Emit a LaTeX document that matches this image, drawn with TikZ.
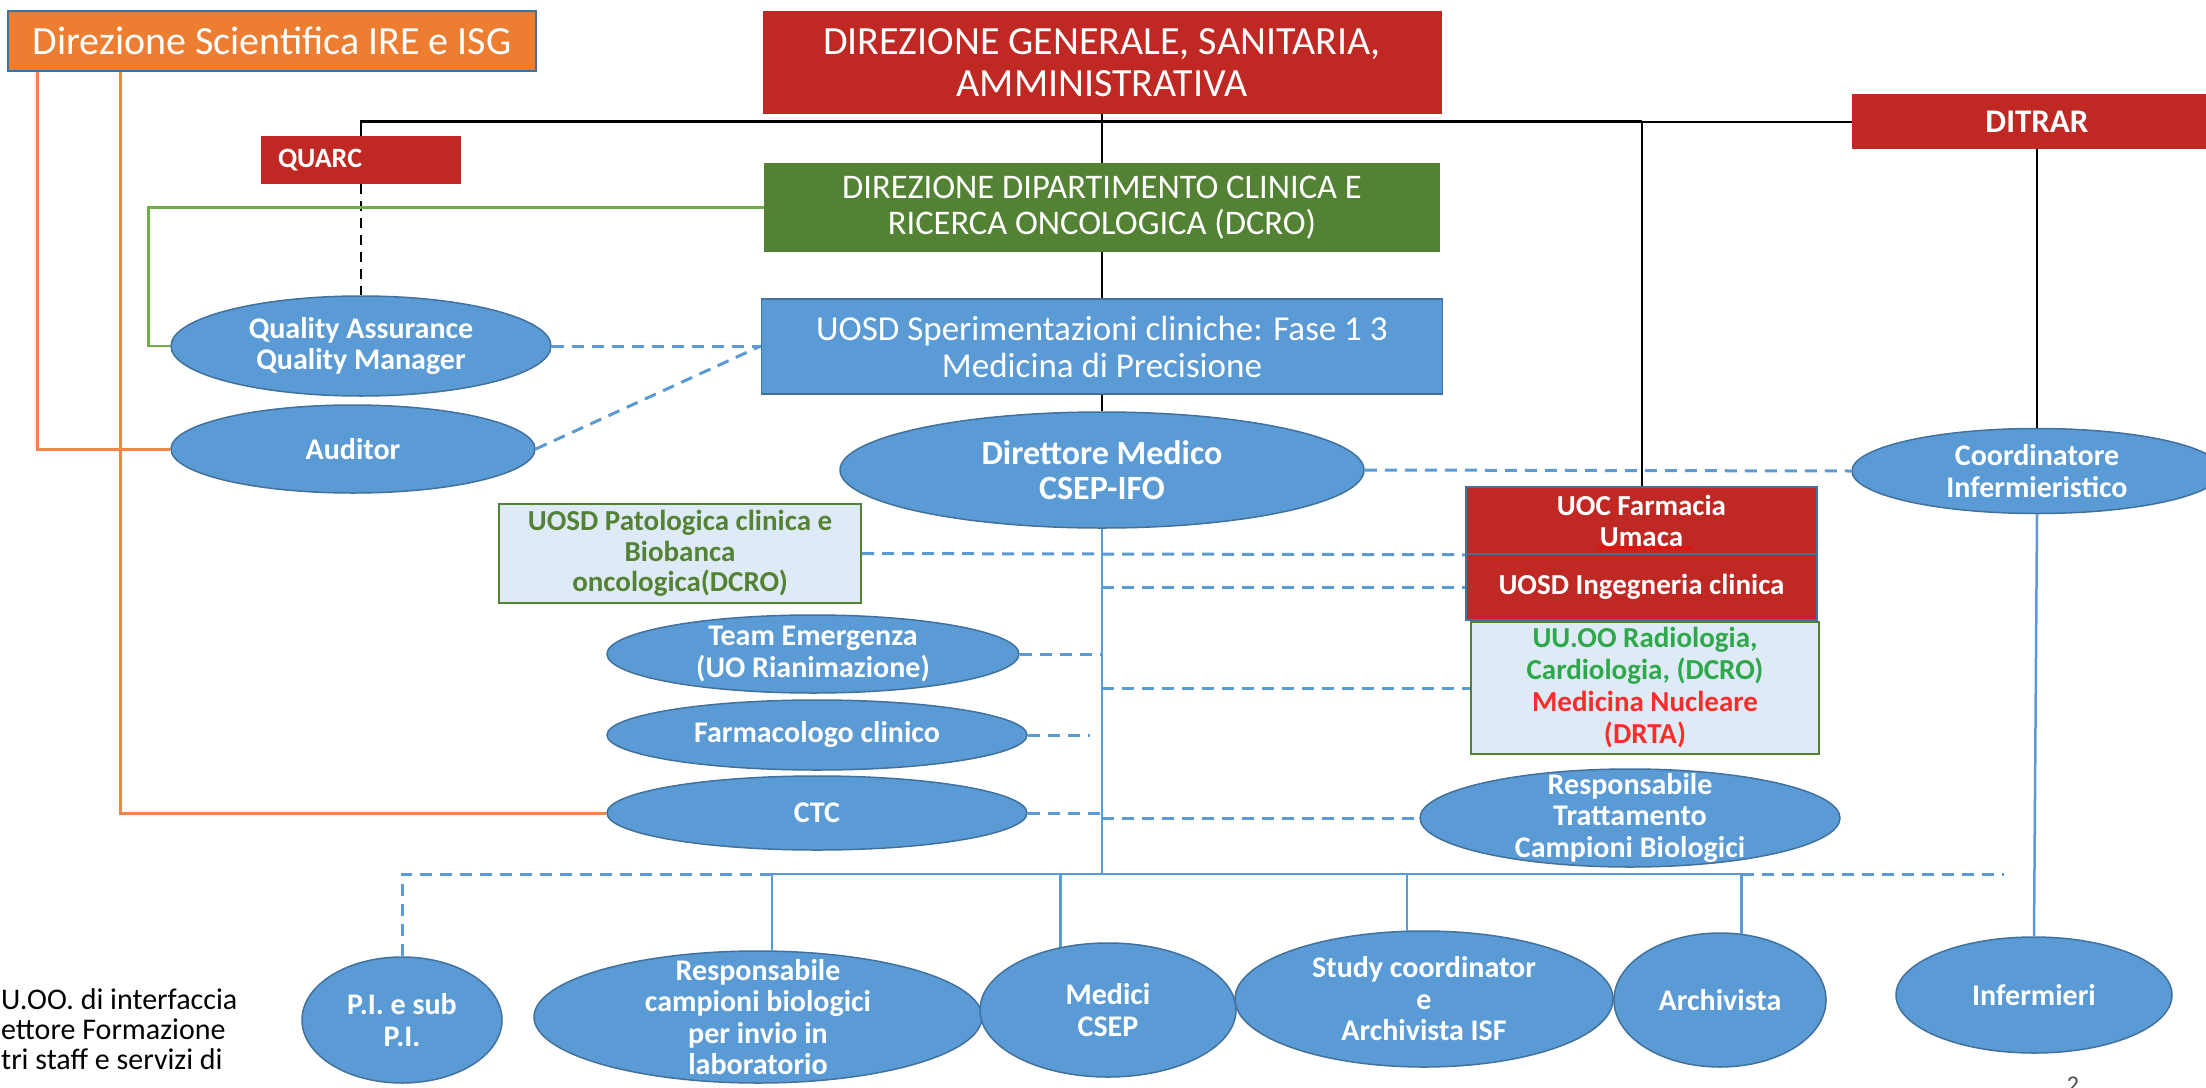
\documentclass[tikz,border=0pt]{standalone}
\usepackage{fontspec}
\setmainfont{Carlito}
\usepackage{tikz}
\usetikzlibrary{shapes.geometric,decorations.pathmorphing}

\begin{document}
\begin{tikzpicture}[x=1pt,y=-1pt,
  box/.style={rectangle,inner sep=0pt,align=center,text=white},
  orgbox/.style={box,fill=orgFill,draw=blueLine,line width=1.5pt},
  redbox/.style={box,fill=redFill},
  greenbox/.style={box,fill=greenFill},
  bluebox/.style={box,fill=blueFill,draw=blueLine,line width=1.5pt},
  palebox/.style={box,fill=paleFill,draw=greenFill,line width=2pt},
  oval/.style={ellipse,inner sep=0pt,fill=blueFill,draw=blueLine,line width=1.5pt},
  ovaltext/.style={text=white,align=center,inner sep=0pt,font=\bfseries\fontsize{30}{31.5}\selectfont},
  blackline/.style={draw=black,line width=2.5pt},
  thinblack/.style={draw=black,line width=2pt},
  quarcline/.style={draw=black,line width=2pt,dash pattern=on 10pt off 7pt},
  greenline/.style={draw=lineGreen,line width=2.5pt},
  orangeline/.style={draw=lineOrange,line width=3pt},
  blueline/.style={draw=blueFill,line width=2.5pt},
  bluedash/.style={draw=blueFill,line width=3pt,dash pattern=on 12pt off 8pt}]
\definecolor{orgFill}{RGB}{237,125,49}
\definecolor{redFill}{RGB}{192,40,35}
\definecolor{greenFill}{RGB}{84,130,53}
\definecolor{blueFill}{RGB}{91,155,213}
\definecolor{blueLine}{RGB}{65,113,156}
\definecolor{paleFill}{RGB}{222,235,247}
\definecolor{lineGreen}{RGB}{112,173,71}
\definecolor{lineOrange}{RGB}{241,135,70}
\definecolor{uuGreen}{RGB}{46,168,74}
\definecolor{nucRed}{RGB}{250,45,45}

\path[use as bounding box,fill=white] (0,0) rectangle (2206,1087);

% top level
\node[orgbox,minimum width=528pt,minimum height=60pt,font=\fontsize{40}{42}\selectfont] (dirsci) at (272,41) {Direzione Scientifica IRE e ISG};
\node[redbox,minimum width=679pt,minimum height=103pt,font=\fontsize{40}{42}\selectfont] (dirgen) at (1102,62.5) {DIREZIONE GENERALE, SANITARIA,\\AMMINISTRATIVA};
\node[redbox,minimum width=200pt,minimum height=48pt,text width=166pt,align=left,font=\bfseries\fontsize{28}{30}\selectfont] (quarc) at (361,160) {QUARC};
\node[redbox,minimum width=370pt,minimum height=55pt,font=\bfseries\fontsize{33}{35}\selectfont] (ditrar) at (2037,121.5) {DITRAR};
\node[greenbox,minimum width=676pt,minimum height=89pt,font=\fontsize{34.5}{36}\selectfont] (dcro) at (1102,207.5) {DIREZIONE DIPARTIMENTO CLINICA E\\RICERCA ONCOLOGICA (DCRO)};
\node[bluebox,minimum width=681pt,minimum height=95pt,font=\fontsize{35}{37}\selectfont] (uosd) at (1102,346.5) {UOSD Sperimentazioni cliniche: Fase 1 3\\Medicina di Precisione};

% staff
\node[oval,minimum width=380pt,minimum height=100pt,label={[ovaltext]center:Quality Assurance\\Quality Manager}] (qa) at (361,346) {};
\node[oval,minimum width=364pt,minimum height=88pt,label={[ovaltext]center:Auditor}] (auditor) at (353,449) {};
\node[oval,minimum width=524pt,minimum height=116pt,label={[ovaltext,font=\bfseries\fontsize{34}{35}\selectfont]center:Direttore Medico\\CSEP-IFO}] (direttore) at (1102,470) {};
\node[oval,minimum width=370pt,minimum height=85pt,label={[ovaltext]center:Coordinatore\\Infermieristico}] (coord) at (2037,471) {};

% interfaces
\node[palebox,minimum width=362pt,minimum height=99pt,text=greenFill,font=\bfseries\fontsize{29}{30.5}\selectfont] (patologica) at (680,553.5) {UOSD Patologica clinica e\\Biobanca\\oncologica(DCRO)};
\node[redbox,draw=blueLine,line width=1.5pt,minimum width=351pt,minimum height=67pt,font=\bfseries\fontsize{29}{31}\selectfont] (farmacia) at (1641.5,520.5) {UOC Farmacia\\Umaca};
\node[redbox,draw=blueLine,line width=1.5pt,minimum width=351pt,minimum height=66pt,font=\bfseries\fontsize{29}{31}\selectfont] (ingegneria) at (1641.5,587) {UOSD Ingegneria clinica};
\node[palebox,minimum width=348pt,minimum height=132pt,font=\bfseries\fontsize{29}{32}\selectfont] (uuoo) at (1645,688) {\textcolor{uuGreen}{UU.OO Radiologia,}\\\textcolor{uuGreen}{Cardiologia, (DCRO)}\\\textcolor{nucRed}{Medicina Nucleare}\\\textcolor{nucRed}{(DRTA)}};
\node[oval,minimum width=412pt,minimum height=78pt,label={[ovaltext]center:Team Emergenza\\(UO Rianimazione)}] (team) at (813,654) {};
\node[oval,minimum width=420pt,minimum height=70pt,label={[ovaltext]center:Farmacologo clinico}] (farmaco) at (817,735) {};
\node[oval,minimum width=420pt,minimum height=74pt,label={[ovaltext]center:CTC}] (ctc) at (817,813) {};
\node[oval,minimum width=420pt,minimum height=98pt,label={[ovaltext]center:Responsabile\\Trattamento\\Campioni Biologici}] (resptratt) at (1630,818) {};

% bottom row
\node[oval,minimum width=200pt,minimum height=126pt,label={[ovaltext]center:P.I. e sub\\P.I.}] (pi) at (402,1020) {};
\node[oval,minimum width=448pt,minimum height=132pt,label={[ovaltext]center:Responsabile\\campioni biologici\\per invio in\\laboratorio}] (respcamp) at (758,1017) {};
\node[oval,minimum width=256pt,minimum height=134pt,label={[ovaltext]center:Medici\\CSEP}] (medici) at (1108,1010) {};
\node[oval,minimum width=378pt,minimum height=136pt,label={[ovaltext]center:Study coordinator\\e\\Archivista ISF}] (study) at (1424,999) {};
\node[oval,minimum width=212pt,minimum height=134pt,label={[ovaltext]center:Archivista}] (archivista) at (1720,1000) {};
\node[oval,minimum width=276pt,minimum height=116pt,label={[ovaltext]center:Infermieri}] (infermieri) at (2034,995) {};

\node[anchor=north west,inner sep=0pt,align=left,font=\fontsize{30}{30}\selectfont] (note) at (1,988) {U.OO. di interfaccia\\ettore Formazione\\tri staff e servizi di};
\node[anchor=north,inner sep=0pt,text=black!70,font=\fontsize{24}{24}\selectfont] (pagenum) at (2073,1077) {2};

\coordinate (bus) at (1102,874);
\coordinate (dashend) at (2004,874);

% hierarchy
\draw[blackline] (quarc.north) |- (farmacia.north |- ditrar.west);
\draw[thinblack] (farmacia.north |- ditrar.west) -- (ditrar.west);
\draw[blackline] (dirgen.south) -- (dcro.north);
\draw[blackline] (dcro.south) -- (uosd.north);
\draw[blackline] (uosd.south) -- (direttore.north);
\draw[thinblack] (farmacia.north |- ditrar.west) -- (farmacia.north);
\draw[thinblack] (ditrar.south) -- (coord.north);
\draw[quarcline] (quarc.south) -- (qa.north);
\draw[greenline] (dcro.west) -| ([xshift=-22pt]qa.west) -- (qa.west);
\draw[orangeline] ([xshift=30pt]dirsci.south west) |- (auditor.west);
\draw[orangeline] ([xshift=113pt]dirsci.south west) |- (ctc.west);

% dashed links
\draw[bluedash] (qa.east) -- (qa.east -| uosd.west);
\draw[bluedash] (auditor.east) -- (qa.east -| uosd.west);
\draw[bluedash] (direttore.east) -- (coord.west);
\draw[bluedash] (patologica.east) -- (farmacia.south west);
\draw[bluedash] (ingegneria.west -| direttore.south) -- (ingegneria.west);
\draw[bluedash] (team.east) -- (team.east -| direttore.south);
\draw[bluedash] (uuoo.west -| direttore.south) -- (uuoo.west);
\draw[bluedash] (farmaco.east) -- ([xshift=-12pt]farmaco.east -| direttore.south);
\draw[bluedash] (ctc.east) -- (ctc.east -| direttore.south);
\draw[bluedash] (resptratt.west -| direttore.south) -- (resptratt.west);
\draw[bluedash] (pi.north) |- (respcamp.78 |- bus);
\draw[bluedash] (archivista.72 |- bus) -- (dashend);

% staff tree
\draw[blueline] (direttore.south) -- (bus);
\draw[blueline] (respcamp.78 |- bus) -- (archivista.72 |- bus);
\draw[blueline] (respcamp.78 |- bus) -- (respcamp.78);
\draw[blueline] (medici.127 |- bus) -- (medici.127);
\draw[blueline] (study.104 |- bus) -- (study.104);
\draw[blueline] (archivista.72 |- bus) -- (archivista.72);
\draw[blueline] (coord.south) -- (infermieri.north);

\draw[red,line width=1pt,decorate,decoration={snake,amplitude=1.2pt,segment length=4pt}] ([shift={(-44,-7)}]farmacia.south) -- ([shift={(51,-7)}]farmacia.south);
\end{tikzpicture}
\end{document}
